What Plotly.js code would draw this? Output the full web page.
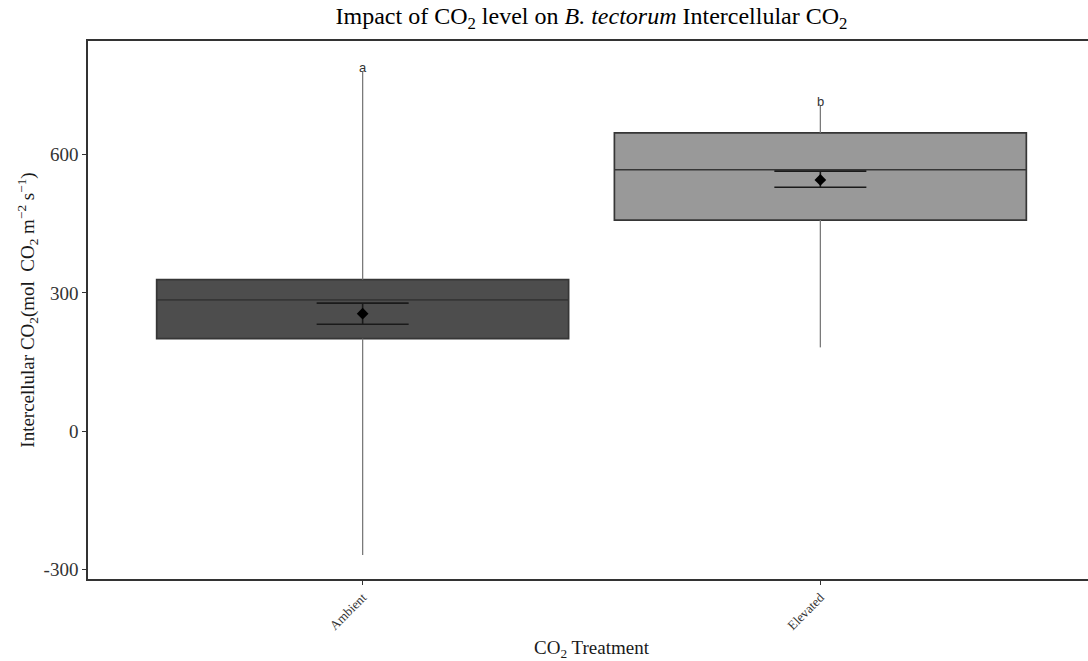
<!DOCTYPE html>
<html>
<head>
<meta charset="utf-8">
<script src="https://cdn.plot.ly/plotly-3.0.1.min.js"></script>
<style>
html, body { margin: 0; padding: 0; overflow: hidden; background: #fff; }
#chart { width: 1095px; height: 661px; }
</style>
</head>
<body>
<div id="chart"></div>
<script>
// ---- data ----
const categories = ['Ambient', 'Elevated'];
const q1Values = [201, 458];
const medianValues = [285, 567];
const q3Values = [329, 647];
const lowerWhisker = [-268, 182];
const upperWhisker = [779, 706];
const meanValues = [255, 545];
const errHigh = [278, 564];
const errLow = [232, 529];
const groupLetters = ['a', 'b'];
const boxFills = ['#4d4d4d', '#999999'];

const traces = [];

// boxes (fences set to quartiles; whiskers drawn separately so only the outer parts show)
categories.forEach((cat, i) => {
  traces.push({
    type: 'box',
    x: [cat],
    q1: [q1Values[i]],
    median: [medianValues[i]],
    q3: [q3Values[i]],
    lowerfence: [q1Values[i]],
    upperfence: [q3Values[i]],
    width: 0.9,
    whiskerwidth: 0,
    fillcolor: boxFills[i],
    line: { color: '#363636', width: 1.7 },
    showlegend: false,
    hoverinfo: 'skip'
  });
});

// whiskers
const wx = [], wy = [];
categories.forEach((cat, i) => {
  wx.push(cat, cat, null, cat, cat, null);
  wy.push(upperWhisker[i], q3Values[i], null, q1Values[i], lowerWhisker[i], null);
});
traces.push({
  type: 'scatter',
  mode: 'lines',
  x: wx,
  y: wy,
  line: { color: '#7a7a7a', width: 1.3 },
  showlegend: false,
  hoverinfo: 'skip'
});

// means with error bars
traces.push({
  type: 'scatter',
  mode: 'markers',
  x: categories,
  y: meanValues,
  marker: { symbol: 'diamond', size: 9, color: '#000000' },
  error_y: {
    type: 'data',
    symmetric: false,
    array: errHigh.map((v, i) => v - meanValues[i]),
    arrayminus: meanValues.map((v, i) => v - errLow[i]),
    width: 46,
    thickness: 1.6,
    color: '#1a1a1a'
  },
  showlegend: false,
  hoverinfo: 'skip'
});

const serif = 'Liberation Serif, Times New Roman, serif';

const annotations = categories.map((cat, i) => ({
  x: cat,
  y: upperWhisker[i],
  xref: 'x',
  yref: 'y',
  text: groupLetters[i],
  showarrow: false,
  yanchor: 'bottom',
  yshift: -5,
  font: { family: 'Liberation Sans, Arial, sans-serif', size: 13, color: '#333333' }
}));

const layout = {
  width: 1095,
  height: 661,
  margin: { l: 88, r: 0, t: 41, b: 82 },
  paper_bgcolor: '#ffffff',
  plot_bgcolor: '#ffffff',
  font: { family: serif, color: '#1a1a1a' },
  title: {
    text: 'Impact of CO<sub>2</sub> level on <i>B. tectorum</i> Intercellular CO<sub>2</sub>',
    font: { family: serif, size: 24, color: '#000000' },
    x: 0.5,
    xref: 'paper',
    xanchor: 'center',
    y: 0.977,
    yref: 'container',
    yanchor: 'middle'
  },
  xaxis: {
    type: 'category',
    range: [-0.6, 1.6],
    showgrid: false,
    zeroline: false,
    showline: true,
    mirror: true,
    linecolor: '#333333',
    linewidth: 1.8,
    ticks: 'outside',
    ticklen: 4,
    tickcolor: '#333333',
    tickangle: -45,
    tickfont: { family: serif, size: 13, color: '#333333' },
    title: {
      text: 'CO<sub>2</sub> Treatment',
      font: { family: serif, size: 19, color: '#1a1a1a' },
      standoff: 10
    }
  },
  yaxis: {
    range: [-320, 846],
    tickvals: [-300, 0, 300, 600],
    ticktext: ['-300', '0', '300', '600'],
    showgrid: false,
    zeroline: false,
    showline: true,
    mirror: true,
    linecolor: '#333333',
    linewidth: 1.8,
    ticks: 'outside',
    ticklen: 4,
    tickcolor: '#333333',
    tickfont: { family: serif, size: 19, color: '#333333' },
    title: {
      text: 'Intercellular CO<sub>2</sub>(mol  CO<sub>2</sub> m<sup>\u22122</sup> s<sup>\u22121</sup>)',
      font: { family: serif, size: 19, color: '#1a1a1a' },
      standoff: 4
    }
  },
  annotations: annotations,
  showlegend: false
};

Plotly.newPlot('chart', traces, layout, { displayModeBar: false, staticPlot: true });
</script>
</body>
</html>
